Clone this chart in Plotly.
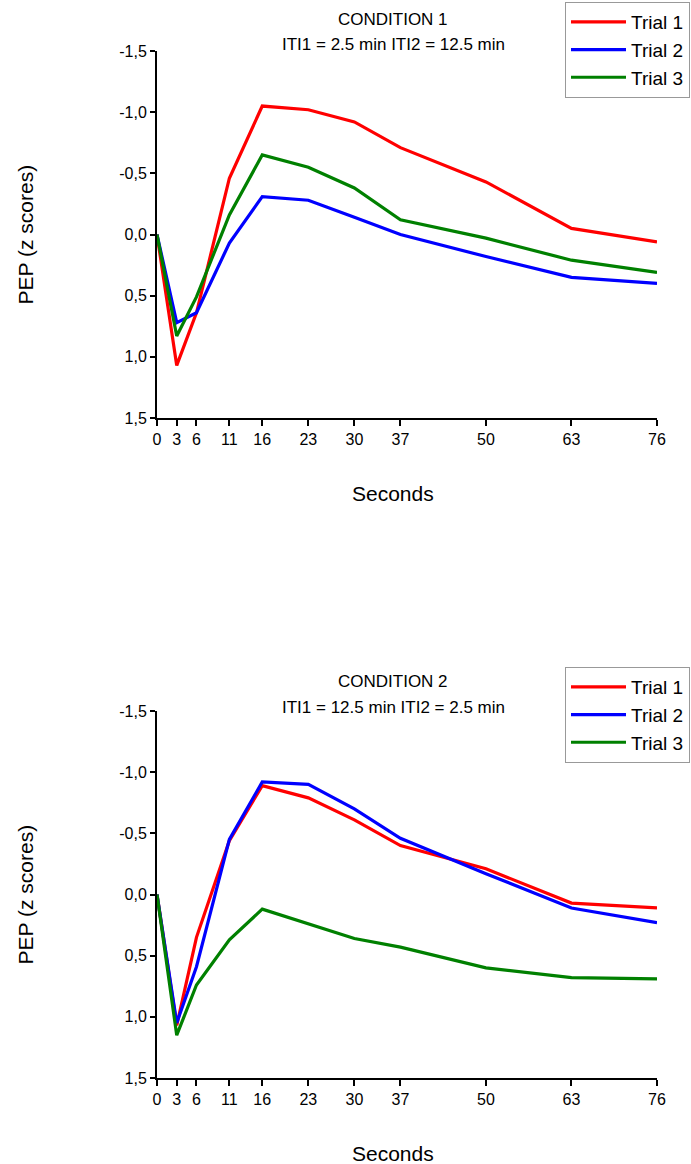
import plotly.graph_objects as go

# ---- data ----
seconds = [0, 3, 6, 11, 16, 23, 30, 37, 50, 63, 76]
trial_names = ["Trial 1", "Trial 2", "Trial 3"]
colors = ["#ff0000", "#0000ff", "#008000"]

# Condition 1 (PEP z scores)
c1_trial1 = [0.0, 1.07, 0.64, -0.46, -1.05, -1.02, -0.92, -0.71, -0.43, -0.05, 0.06]
c1_trial2 = [0.0, 0.72, 0.64, 0.07, -0.31, -0.28, -0.14, 0.0, 0.18, 0.35, 0.40]
c1_trial3 = [0.0, 0.83, 0.51, -0.16, -0.65, -0.55, -0.38, -0.12, 0.03, 0.21, 0.31]

# Condition 2 (PEP z scores)
c2_trial1 = [0.0, 1.07, 0.35, -0.44, -0.89, -0.79, -0.61, -0.40, -0.21, 0.07, 0.11]
c2_trial2 = [0.0, 1.05, 0.59, -0.45, -0.92, -0.90, -0.70, -0.46, -0.17, 0.11, 0.23]
c2_trial3 = [0.0, 1.15, 0.74, 0.37, 0.12, 0.24, 0.36, 0.43, 0.60, 0.68, 0.69]

y_ticks = [-1.5, -1.0, -0.5, 0.0, 0.5, 1.0, 1.5]
y_ticktext = ["-1,5", "-1,0", "-0,5", "0,0", "0,5", "1,0", "1,5"]

titles = ["CONDITION 1<br>ITI1 = 2.5 min ITI2 = 12.5 min",
          "CONDITION 2<br>ITI1 = 12.5 min ITI2 = 2.5 min"]

W, H = 691, 1164
FONT = "Liberation Sans, Arial, sans-serif"

fig = go.Figure()

conds = [[c1_trial1, c1_trial2, c1_trial3], [c2_trial1, c2_trial2, c2_trial3]]
for ci, cond in enumerate(conds):
    xa = "x" if ci == 0 else "x2"
    ya = "y" if ci == 0 else "y2"
    lg = "legend" if ci == 0 else "legend2"
    for ti, vals in enumerate(cond):
        fig.add_trace(go.Scatter(
            x=seconds, y=vals, mode="lines", name=trial_names[ti],
            line=dict(color=colors[ti], width=3.2),
            xaxis=xa, yaxis=ya, legend=lg, showlegend=True,
        ))

def px_x(p):
    return p / W

def px_y(p):
    return 1 - p / H

# plot areas in pixels
x0, x1 = 157, 657
panels = [(51, 418), (711, 1078)]

axis_common = dict(showline=True, linecolor="black", linewidth=2, mirror=False,
                   showgrid=False, zeroline=False, ticks="outside", tickcolor="black",
                   tickwidth=2, tickfont=dict(family=FONT, size=16, color="black"))

layout = dict(
    width=W, height=H, margin=dict(l=0, r=0, t=0, b=0, autoexpand=False),
    paper_bgcolor="white", plot_bgcolor="white",
    font=dict(family=FONT, color="black"),
    showlegend=True,
)

for i, (top, bot) in enumerate(panels):
    sx = "" if i == 0 else "2"
    layout["xaxis" + sx] = dict(axis_common, domain=[px_x(x0), px_x(x1)], range=[0, 76],
                                tickvals=seconds, ticklen=6, anchor="y" + sx)
    layout["yaxis" + sx] = dict(axis_common, domain=[px_y(bot), px_y(top)], range=[1.5, -1.5],
                                tickvals=y_ticks, ticktext=y_ticktext, ticklen=5,
                                anchor="x" + sx)

legend_common = dict(xanchor="left", yanchor="top", bgcolor="white",
                     bordercolor="#999999", borderwidth=1,
                     font=dict(family=FONT, size=19, color="black"),
                     itemwidth=55, tracegroupgap=0)
layout["legend"] = dict(legend_common, x=px_x(565), y=px_y(2))
layout["legend2"] = dict(legend_common, x=px_x(565), y=px_y(667))

annotations = []
title_y = [(19, 45), (681, 707)]
title_lines = [t.split("<br>") for t in titles]
for i in range(2):
    for j in range(2):
        annotations.append(dict(text=title_lines[i][j], x=px_x(393), y=px_y(title_y[i][j]),
                                xref="paper", yref="paper", showarrow=False,
                                xanchor="center", yanchor="middle",
                                font=dict(family=FONT, size=17, color="black")))
    top, bot = panels[i]
    annotations.append(dict(text="PEP (z scores)", x=px_x(25), y=px_y((top + bot) / 2),
                            xref="paper", yref="paper", showarrow=False, textangle=-90,
                            xanchor="center", yanchor="middle",
                            font=dict(family=FONT, size=21, color="black")))
    annotations.append(dict(text="Seconds", x=px_x(393), y=px_y(bot + 75),
                            xref="paper", yref="paper", showarrow=False,
                            xanchor="center", yanchor="middle",
                            font=dict(family=FONT, size=21, color="black")))
layout["annotations"] = annotations

fig.update_layout(**layout)
fig.write_html("out.html", config={"displayModeBar": False},
               post_script="document.body.style.margin='0';")
